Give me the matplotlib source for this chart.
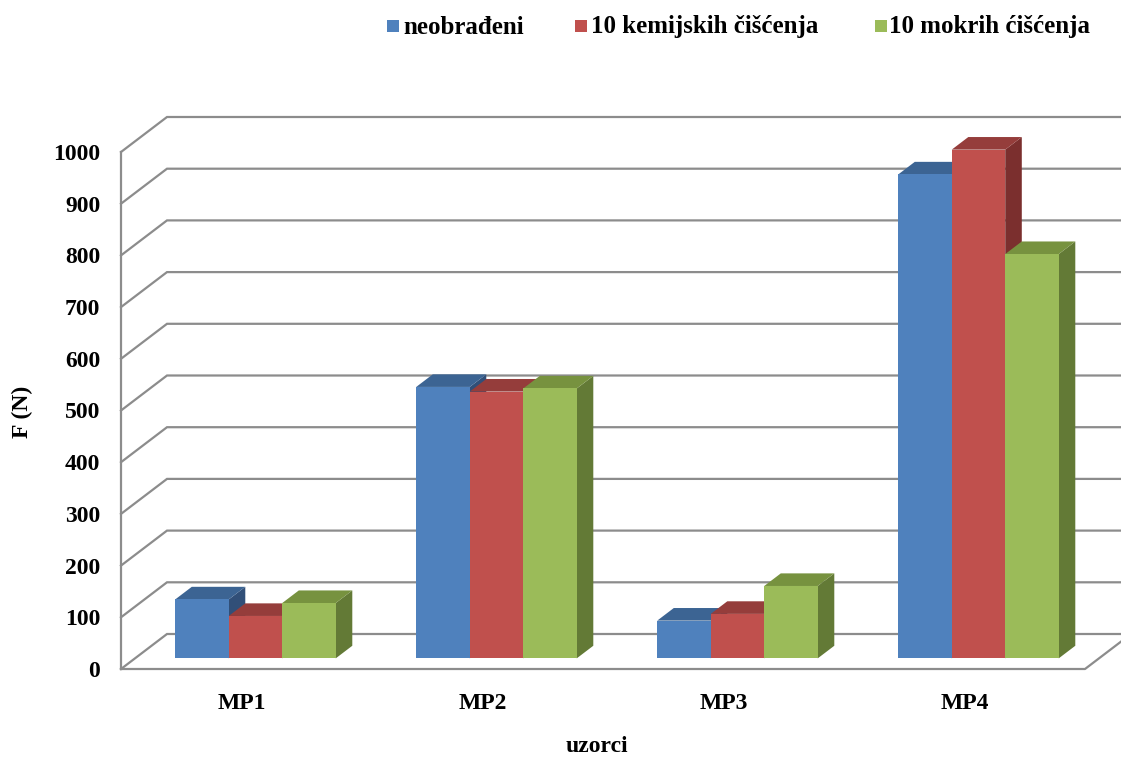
import matplotlib
matplotlib.use("Agg")
import matplotlib.pyplot as plt
from matplotlib.patches import Polygon, Rectangle

# ---------------- data ----------------
categories = ["MP1", "MP2", "MP3", "MP4"]
series_names = ["neobrađeni", "10 kemijskih čišćenja", "10 mokrih ćišćenja"]
neobradjeni = [114, 525, 73, 936]
kemijsko = [82, 516, 86, 984]
mokro = [107, 522, 140, 782]
yticks = [0, 100, 200, 300, 400, 500, 600, 700, 800, 900, 1000]
xlabel = "uzorci"
ylabel = "F (N)"

series = [neobradjeni, kemijsko, mokro]
front_cols = ["#4F81BD", "#C0504D", "#9BBB59"]
top_cols = ["#3C6493", "#953D3B", "#77923F"]
side_cols = ["#314F78", "#7B2F2E", "#637A36"]

plt.rcParams["font.family"] = ["Liberation Serif", "DejaVu Serif"]
plt.rcParams["font.weight"] = "bold"

W, H = 1121, 758
fig = plt.figure(figsize=(W / 100, H / 100), dpi=100)
fig.patch.set_facecolor("white")

# axes: front plane, x in category units, y in value units
x0, x1 = 121, 1121
yb, yt = 669, 152
ax = fig.add_axes([x0 / W, (H - yb) / H, (x1 - x0) / W, (yb - yt) / H])
px_per_cat = 241.0
ax.set_xlim(0, (x1 - x0) / px_per_cat)
ax.set_ylim(0, 1000)
px_per_val = (yb - yt) / 1000.0

# depth vector of the whole floor (in data units)
DDX = 46 / px_per_cat
DDY = 35 / px_per_val
ncat = len(categories)

grid_c = "#8c8c8c"
glw = 1.6
# back wall gridlines + left wall diagonals
for v in yticks:
    ax.plot([0, DDX, ncat + DDX + 0.5], [v, v + DDY, v + DDY], color=grid_c,
            lw=glw, clip_on=False, zorder=1, solid_joinstyle="miter")
# front-left vertical axis line
ax.plot([0, 0], [0, 1000], color=grid_c, lw=glw, clip_on=False, zorder=1)
# floor front edge and right diagonal
ax.plot([0, ncat, ncat + DDX], [0, 0, DDY], color=grid_c, lw=glw,
        clip_on=False, zorder=1)

# bars
bw = 0.222
f0 = 0.304          # depth fraction where bar front sits
fd = 0.36           # bar depth fraction
bx, by = f0 * DDX, f0 * DDY
dx, dy = fd * DDX, fd * DDY
z = 3
for i in range(ncat):
    for j, vals in enumerate(series):
        left = i + 0.5 - 1.5 * bw + j * bw + bx
        right = left + bw
        b = by
        t = by + vals[i]
        # side face
        ax.add_patch(Polygon([(right, b), (right + dx, b + dy), (right + dx, t + dy), (right, t)],
                             closed=True, facecolor=side_cols[j], edgecolor="none",
                             zorder=z, clip_on=False))
        # top face
        ax.add_patch(Polygon([(left, t), (right, t), (right + dx, t + dy), (left + dx, t + dy)],
                             closed=True, facecolor=top_cols[j], edgecolor="none",
                             zorder=z, clip_on=False))
        # front face
        ax.add_patch(Rectangle((left, b), bw, vals[i], facecolor=front_cols[j],
                               edgecolor="none", zorder=z, clip_on=False))
        z += 1

for s in ax.spines.values():
    s.set_visible(False)
ax.set_facecolor("none")

ax.set_yticks(yticks)
ax.set_yticklabels([str(v) for v in yticks], fontsize=17, fontweight="bold")
ax.set_xticks([i + 0.5 for i in range(ncat)])
ax.set_xticklabels(categories, fontsize=17, fontweight="bold")
ax.tick_params(axis="y", length=0, pad=15)
ax.tick_params(axis="x", length=0, pad=17)

ax.set_xlabel(xlabel, fontsize=17, fontweight="bold")
ax.xaxis.set_label_coords((597 - x0) / (x1 - x0), (yb - 736) / (yb - yt))
ax.set_ylabel(ylabel, fontsize=17, fontweight="bold", va="center")
ax.yaxis.set_label_coords((22 - x0) / (x1 - x0), (yb - 412) / (yb - yt))

# legend (top)
leg_sq = [387, 575, 875]
leg_tx = [403, 591, 889]
for k in range(3):
    fig.patches.append(Rectangle((leg_sq[k] / W, (H - 32) / H), 12 / W, 12 / H,
                                 transform=fig.transFigure, facecolor=front_cols[k],
                                 edgecolor="none"))
    fig.text(leg_tx[k] / W, (H - 27) / H, series_names[k], fontsize=18,
             fontweight="bold", va="center", ha="left")

fig.savefig("out.png", dpi=100, facecolor="white")
